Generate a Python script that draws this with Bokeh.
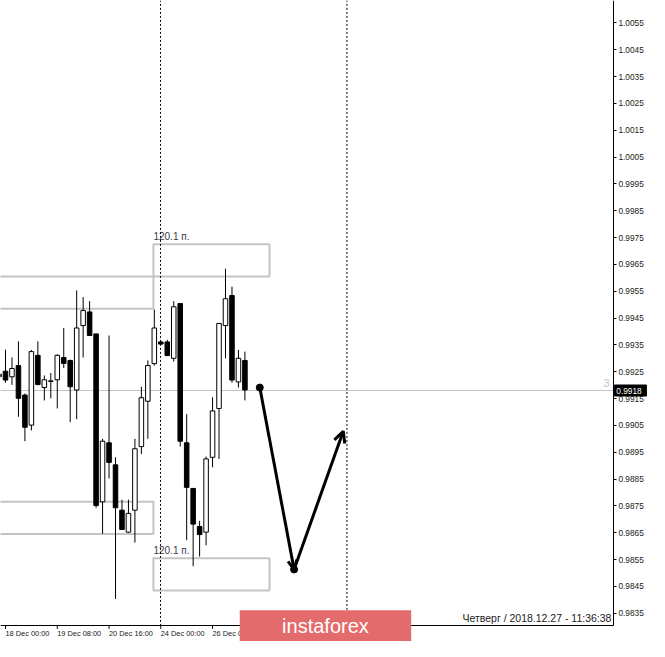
import numpy as np
from bokeh.plotting import figure
from bokeh.models import Range1d, LinearAxis, FixedTicker, NumeralTickFormatter, ColumnDataSource, Arrow, OpenHead
from bokeh.core.properties import value
from bokeh.embed import file_html
from bokeh.resources import INLINE

# ---------------- data (EURCHF-like H4 candles) ----------------
opens  = [0.99241, 0.99252, 0.99231, 0.99273, 0.99163, 0.99051, 0.99311, 0.99191, 0.99214, 0.99220,
          0.99303, 0.99292, 0.99182, 0.99422, 0.99473, 0.99391, 0.98765, 0.98985, 0.98903, 0.98734,
          0.98652, 0.98734, 0.98971, 0.99140, 0.99280, 0.99361, 0.99361, 0.99300, 0.99504, 0.98985,
          0.98815, 0.98673, 0.98652, 0.98931, 0.99113, 0.99422, 0.99534, 0.99212, 0.99292]
highs  = [0.99245, 0.99332, 0.99303, 0.99363, 0.99169, 0.99331, 0.99363, 0.99236, 0.99245, 0.99315,
          0.99413, 0.99295, 0.99553, 0.99528, 0.99513, 0.99391, 0.99000, 0.99385, 0.98931, 0.98773,
          0.98773, 0.99000, 0.99194, 0.99292, 0.99482, 0.99365, 0.99369, 0.99513, 0.99504, 0.99092,
          0.98815, 0.98694, 0.98934, 0.99155, 0.99430, 0.99634, 0.99567, 0.99331, 0.99325]
lows   = [0.99230, 0.99209, 0.99201, 0.99082, 0.98991, 0.99031, 0.99200, 0.99143, 0.99151, 0.99113,
          0.99264, 0.99062, 0.99073, 0.99303, 0.99383, 0.98743, 0.98646, 0.98852, 0.98403, 0.98660,
          0.98650, 0.98613, 0.98943, 0.99000, 0.99273, 0.99350, 0.99310, 0.99288, 0.98971, 0.98622,
          0.98525, 0.98561, 0.98603, 0.98894, 0.98925, 0.99300, 0.99209, 0.99191, 0.99143]
closes = [0.99231, 0.99219, 0.99262, 0.99151, 0.99043, 0.99325, 0.99202, 0.99220, 0.99216, 0.99311,
          0.99281, 0.99194, 0.99413, 0.99478, 0.99385, 0.98751, 0.98991, 0.98912, 0.98743, 0.98662,
          0.98722, 0.98963, 0.99153, 0.99273, 0.99413, 0.99353, 0.99310, 0.99492, 0.98991, 0.98819,
          0.98682, 0.98643, 0.98925, 0.99104, 0.99430, 0.99522, 0.99219, 0.99300, 0.99182]

# time labels on bottom axis (candle index where each label starts)
time_label_idx = [1, 9, 17, 25, 33]
time_labels = ["18 Dec 00:00", "19 Dec 08:00", "20 Dec 16:00", "24 Dec 00:00", "26 Dec 08:00"]

# price axis ticks
price_ticks = [0.9835, 0.9845, 0.9855, 0.9865, 0.9875, 0.9885, 0.9895, 0.9905, 0.9915, 0.9925,
               0.9935, 0.9945, 0.9955, 0.9965, 0.9975, 0.9985, 0.9995, 1.0005, 1.0015, 1.0025,
               1.0035, 1.0045, 1.0055]

current_price = 0.9918

# 120.1-pip zones
zone_left   = [-3.0, 23.86, -3.0, 23.86]
zone_right  = [23.86, 41.8, 23.86, 41.8]
zone_top    = [0.99605, 0.99725, 0.98765, 0.98555]
zone_bottom = [0.99485, 0.99605, 0.98645, 0.98435]
zone_label = "120.1 п."
zone_label_idx = [1, 3]

# period separators (candle index)
separators = [24.96, 53.77]

# forecast path
path_x = [40.3, 45.6, 53.2]
path_y = [0.99191, 0.98513, 0.99028]

clock_text = "Четверг / 2018.12.27 - 11:36:38"

# ---------------- figure ----------------
x_lo, x_hi = 0.226, 100.53
y_lo, y_hi = 0.982445, 1.006336
axis_x = 94.95        # price axis position (index units)
axis_y = 0.983027     # time axis position (price units)
ppx = 27500.0 * 0.976  # pixels per price unit

p = figure(width=649, height=641, x_range=Range1d(x_lo, x_hi), y_range=Range1d(y_lo, y_hi),
           toolbar_location=None, output_backend="svg", x_axis_location=None, y_axis_location=None,
           min_border=0, outline_line_color=None, background_fill_color="white",
           border_fill_color="white")
p.grid.visible = False

FONT = value("Liberation Sans")

# zones
p.quad(left=zone_left, right=zone_right, top=zone_top, bottom=zone_bottom,
       fill_color=None, line_color="#c4c4c4", line_width=2)
for k in zone_label_idx:
    p.text(x=[zone_left[k]], y=[zone_top[k]], text=[zone_label], text_font=FONT,
           text_font_size="10px", text_color="#3a3a4a", text_baseline="bottom",
           text_align="left", x_offset=0, y_offset=-2)

# current price line
p.segment(x0=[x_lo], x1=[axis_x], y0=[current_price], y1=[current_price], line_color="#c4c4c4", line_width=1)

# separators
p.segment(x0=separators, x1=separators, y0=[axis_y] * len(separators), y1=[y_hi] * len(separators),
          line_color="black", line_width=1, line_dash="2 2")

# candles
idx = np.arange(len(opens))
o = np.array(opens); c = np.array(closes)
top = np.maximum(o, c); bot = np.minimum(o, c)
bot = np.where(top - bot < 0.00002, top - 0.00002, bot)
colors = np.where(c >= o, "white", "black")
src = ColumnDataSource(dict(x=idx, top=top, bottom=bot, high=highs, low=lows, color=colors))
p.segment(x0="x", x1="x", y0="low", y1="high", source=src, line_color="black", line_width=1)
p.vbar(x="x", top="top", bottom="bottom", width=0.7, source=src, fill_color="color",
       line_color="black", line_width=1)

# forecast path
p.add_layout(Arrow(x_start=path_x[0], y_start=path_y[0], x_end=path_x[1], y_end=path_y[1],
                   line_width=3, line_color="black",
                   end=OpenHead(size=9, line_width=3, line_color="black")))
p.add_layout(Arrow(x_start=path_x[1], y_start=path_y[1], x_end=path_x[2], y_end=path_y[2],
                   line_width=3, line_color="black",
                   end=OpenHead(size=11, line_width=3, line_color="black")))
p.scatter(x=path_x[:2], y=path_y[:2], size=7, color="black")

# "3" label near price line
p.text(x=[93.9], y=[0.99208], text=["3"], text_font=FONT, text_font_size="11px",
       text_color="#c4c4c4", text_align="center", text_baseline="middle")

# clock text
p.text(x=[axis_x - 0.3], y=[0.98332], text=[clock_text], text_font=FONT, text_font_size="10.5px",
       text_color="#1a1a1a", text_align="right", text_baseline="middle")

# axes
yax = LinearAxis(fixed_location=axis_x, bounds=(axis_y, y_hi),
                 ticker=FixedTicker(ticks=price_ticks),
                 formatter=NumeralTickFormatter(format="0.0000"))
yax.axis_line_color = "black"
yax.major_tick_in = 0
yax.major_tick_out = 3
yax.minor_tick_line_color = None
yax.major_label_standoff = 2
yax.major_label_text_font = "Liberation Sans"
yax.major_label_text_font_size = "8.3px"
yax.major_label_text_color = "#1a1a1a"
p.add_layout(yax, "right")

half_label = 3.39
x_tick_pos = [i + half_label for i in time_label_idx]
xax = LinearAxis(fixed_location=axis_y, bounds=(x_lo, axis_x),
                 ticker=FixedTicker(ticks=x_tick_pos),
                 major_label_overrides={t: s for t, s in zip(x_tick_pos, time_labels)})
xax.axis_line_color = "black"
xax.major_tick_in = 0
xax.major_tick_out = 0
xax.minor_tick_line_color = None
xax.major_label_standoff = 3
xax.major_label_text_font = "Liberation Sans"
xax.major_label_text_font_size = "7.4px"
xax.major_label_text_color = "#1a1a1a"
p.add_layout(xax, "below")

# small tick marks of time axis
p.segment(x0=time_label_idx, x1=time_label_idx, y0=[axis_y] * len(time_label_idx),
          y1=[axis_y - 3 / ppx] * len(time_label_idx), line_color="black", line_width=1)

# current price marker on the axis
p.quad(left=[axis_x + 0.15], right=[axis_x + 5.1], top=[current_price + 5.5 / ppx],
       bottom=[current_price - 5.5 / ppx], fill_color="black", line_color="black", level="overlay")
p.text(x=[axis_x + 0.45], y=[current_price], text=["0.9918"], text_font=FONT, text_font_size="8.3px",
       text_color="white", text_align="left", text_baseline="middle", level="overlay")

# banner
p.quad(left=[37.2], right=[63.7], top=[0.98361], bottom=[y_lo - 0.001], fill_color="#e46b6b",
       line_color=None, level="overlay")
p.text(x=[50.45], y=[axis_y], text=["instaforex"], text_font=FONT, text_font_size="20px",
       text_color="white", text_align="center", text_baseline="middle", level="overlay")

open("out.html", "w").write(file_html(p, INLINE))
